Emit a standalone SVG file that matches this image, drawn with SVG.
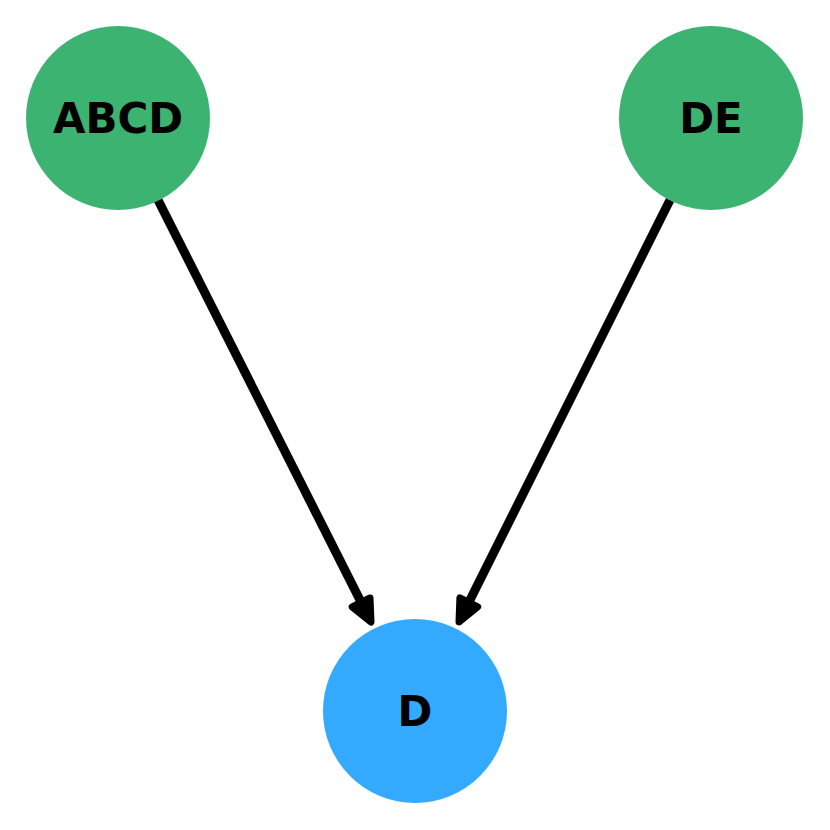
<svg xmlns="http://www.w3.org/2000/svg" width="830" height="830" viewBox="0 0 830 830">
<style>
.g{fill:#3CB371}.b{fill:#34AAFF}
text{font-family:"DejaVu Sans",sans-serif;font-weight:bold;font-size:42px;text-anchor:middle;fill:#000}
.e line{stroke:#000;stroke-width:9}
.e polygon{fill:#000;stroke:#000;stroke-width:7;stroke-linejoin:round}
</style>
<rect width="830" height="830" fill="#fff"/>
<g class="e" id="edges">
<line x1="158" y1="200" x2="361" y2="602"/>
<polygon points="371,622 370,598 352.2,606.9"/>
<line x1="670" y1="200" x2="469" y2="602"/>
<polygon points="459,622 477.7,606.8 459.9,597.8"/>
</g>
<g id="ABCD"><circle class="g" cx="118" cy="118" r="92"/><text x="118" y="133">ABCD</text></g>
<g id="DE"><circle class="g" cx="711" cy="118" r="92"/><text x="711" y="133">DE</text></g>
<g id="D"><circle class="b" cx="415" cy="711" r="92"/><text x="415" y="726">D</text></g>
</svg>
